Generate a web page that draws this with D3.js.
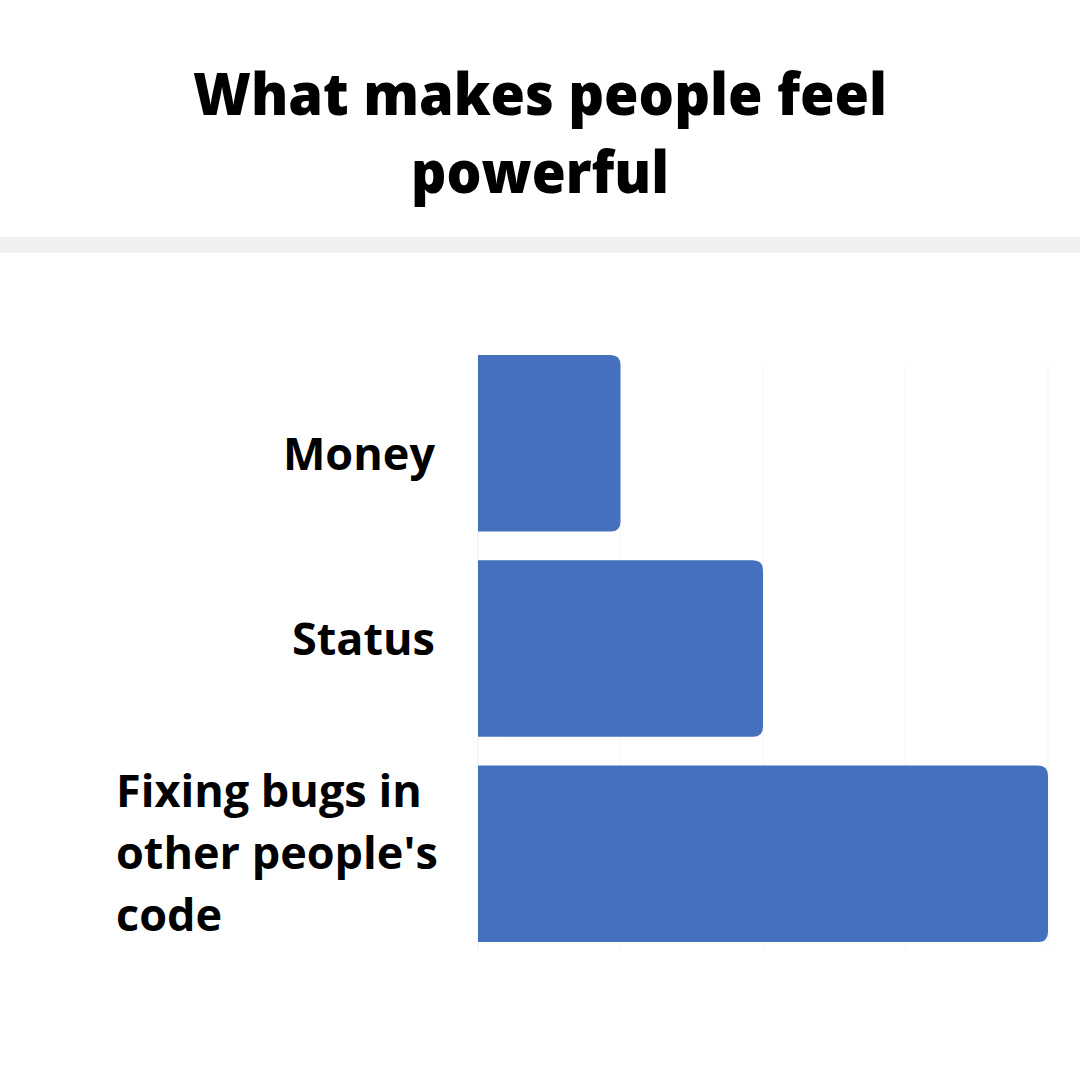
<!DOCTYPE html>
<html><head><meta charset="utf-8">
<script src="https://cdn.jsdelivr.net/npm/d3@7"></script>
<style>html,body{margin:0;padding:0;background:#fff;}svg{display:block;}</style>
</head><body>
<script>
const titleLines = ["What makes people feel", "powerful"];
const categories = ["Money", "Status", "Fixing bugs in other people's code"];
const labelLines = [["Money"], ["Status"], ["Fixing bugs in", "other people's", "code"]];
const values = [1, 2, 4];
const gridTicks = [1, 2, 3, 4];

const W = 1080, H = 1080;
const svg = d3.select("body").append("svg").attr("width", W).attr("height", H);
svg.append("rect").attr("width", W).attr("height", H).attr("fill", "#fff");

// title
const titleWidths = [694, 258];
svg.append("g").selectAll("text").data(titleLines).join("text")
  .attr("x", 540).attr("y", (d, i) => 115 + i * 78)
  .attr("text-anchor", "middle")
  .attr("font-family", "Open Sans").attr("font-weight", 800)
  .attr("font-size", 58).attr("fill", "#000")
  .attr("textLength", (d, i) => titleWidths[i]).attr("lengthAdjust", "spacingAndGlyphs")
  .text(d => d);

// separator band
svg.append("rect").attr("x", 0).attr("y", 237).attr("width", W).attr("height", 16).attr("fill", "#eef0f2");

const x = d3.scaleLinear().domain([0, 4]).range([478, 1048]);
const y = d3.scaleBand().domain(categories).range([355, 942]).paddingInner(0.14).paddingOuter(0);

// faint gridlines
svg.append("g").selectAll("line").data(gridTicks).join("line")
  .attr("x1", d => x(d)).attr("x2", d => x(d))
  .attr("y1", 365).attr("y2", 950)
  .attr("stroke", "#f4f5f7").attr("stroke-width", 1);
svg.append("line").attr("x1", x(0)).attr("x2", x(0)).attr("y1", 355).attr("y2", 950)
  .attr("stroke", "#eceef1").attr("stroke-width", 1);

// bars with rounded right corners
const r = 10;
function barPath(x0, x1, y0, h) {
  return `M${x0},${y0} H${x1 - r} Q${x1},${y0} ${x1},${y0 + r} V${y0 + h - r} Q${x1},${y0 + h} ${x1 - r},${y0 + h} H${x0} Z`;
}
svg.append("g").selectAll("path").data(categories).join("path")
  .attr("d", (d, i) => barPath(x(0), x(values[i]), y(d), y.bandwidth()))
  .attr("fill", "#4470bd");

// labels
const labelShift = [27, 6, 15];
const lg = svg.append("g");
categories.forEach((c, i) => {
  const lines = labelLines[i];
  const cy = y(c) + y.bandwidth() / 2;
  const lh = 62;
  const multi = lines.length > 1;
  lines.forEach((t, j) => {
    lg.append("text")
      .attr("x", multi ? 116 : 435)
      .attr("y", cy + (j - (lines.length - 1) / 2) * lh + labelShift[i])
      .attr("text-anchor", multi ? "start" : "end")
      .attr("font-family", "Open Sans").attr("font-weight", 700)
      .attr("font-size", 45).attr("fill", "#000").text(t);
  });
});
</script>
</body></html>
